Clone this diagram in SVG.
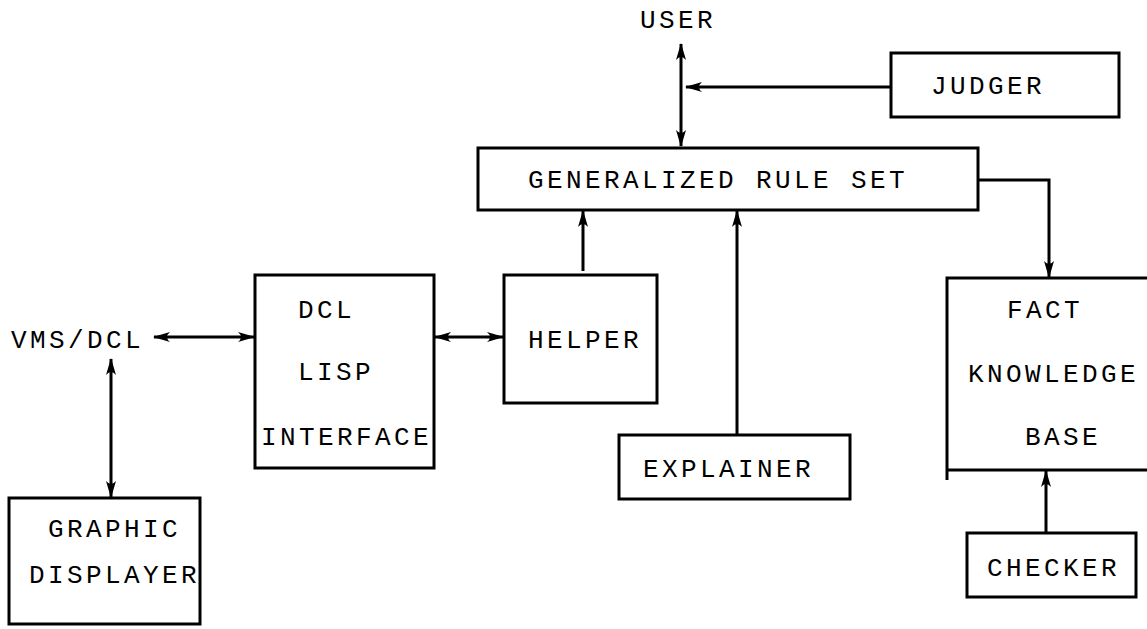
<svg xmlns="http://www.w3.org/2000/svg" width="1147" height="629" viewBox="0 0 1147 629">
<style>
.box{fill:none;stroke:#000;stroke-width:3}
.ln{fill:none;stroke:#000;stroke-width:3}
text{font-family:"Liberation Mono","DejaVu Sans Mono",monospace;font-size:26px;letter-spacing:3.4px;fill:#000}
</style>
<defs>
<marker id="ah" markerUnits="userSpaceOnUse" markerWidth="18" markerHeight="12" refX="16" refY="6" orient="auto-start-reverse" viewBox="0 0 18 12">
<path d="M0,1 Q6,6 0,11 L17,6 Z" fill="#000"/>
</marker>
</defs>
<rect width="1147" height="629" fill="#fff"/>
<g id="connectors">
<line class="ln" x1="681" y1="44" x2="681" y2="146" marker-start="url(#ah)" marker-end="url(#ah)"/>
<line class="ln" x1="890" y1="87" x2="686" y2="87" marker-end="url(#ah)"/>
<polyline class="ln" points="978,180 1049,180 1049,277" marker-end="url(#ah)"/>
<line class="ln" x1="154" y1="337" x2="254" y2="337" marker-start="url(#ah)" marker-end="url(#ah)"/>
<line class="ln" x1="111" y1="359" x2="111" y2="497" marker-start="url(#ah)" marker-end="url(#ah)"/>
<line class="ln" x1="435" y1="337" x2="503" y2="337" marker-start="url(#ah)" marker-end="url(#ah)"/>
<line class="ln" x1="583" y1="271" x2="583" y2="211" marker-end="url(#ah)"/>
<line class="ln" x1="737" y1="435" x2="737" y2="211" marker-end="url(#ah)"/>
<line class="ln" x1="1046" y1="533" x2="1046" y2="471" marker-end="url(#ah)"/>
</g>
<g id="user"><text x="640" y="28">USER</text></g>
<g id="judger"><rect class="box" x="891" y="53" width="228" height="64"/><text x="931" y="94">JUDGER</text></g>
<g id="grs"><rect class="box" x="478" y="148" width="500" height="62"/><text x="528" y="188">GENERALIZED RULE SET</text></g>
<g id="vmsdcl"><text x="11" y="348">VMS/DCL</text></g>
<g id="dcl"><rect class="box" x="255" y="275" width="179" height="193"/><text x="298" y="318">DCL</text><text x="298" y="380">LISP</text><text x="261" y="445">INTERFACE</text></g>
<g id="helper"><rect class="box" x="504" y="275" width="153" height="128"/><text x="528" y="348">HELPER</text></g>
<g id="explainer"><rect class="box" x="619" y="435" width="231" height="64"/><text x="643" y="477">EXPLAINER</text></g>
<g id="fkb"><path class="box" d="M1147,278 H947 V480 M947,470 H1147"/><text x="1007" y="318">FACT</text><text x="968" y="382">KNOWLEDGE</text><text x="1025" y="445">BASE</text></g>
<g id="checker"><rect class="box" x="967" y="533" width="169" height="64"/><text x="987" y="576">CHECKER</text></g>
<g id="graphic"><rect class="box" x="9" y="498" width="191" height="126"/><text x="48" y="537">GRAPHIC</text><text x="29" y="583">DISPLAYER</text></g>
</svg>
